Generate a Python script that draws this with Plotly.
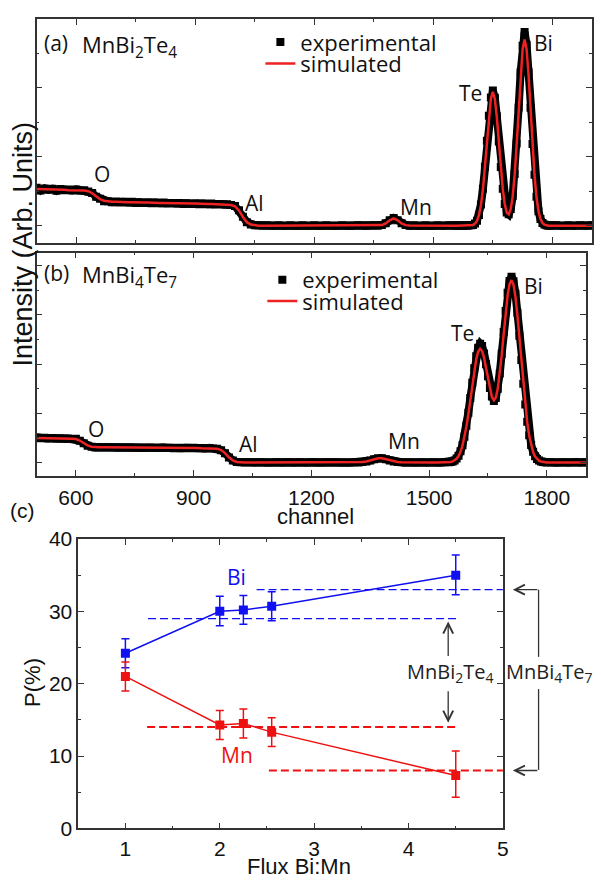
import plotly.graph_objects as go

W, H = 601, 890

# ---------------- data ----------------
# channel grid: every 10 ch, every 5 ch across the Te/Bi peaks, every 10 ch after
channel = list(range(500, 1550, 10)) + list(range(1550, 1800, 5)) + list(range(1800, 1910, 10))

# (a) MnBi2Te4 spectrum (arb. units)
exp_a = [
    1.10, 1.02, 1.08, 1.04, 1.07, 1.01, 1.06, 1.03, 1.05, 1.02,
    1.05, 1.01, 1.03, 0.99, 0.95, 0.84, 0.78, 0.71, 0.71, 0.68,
    0.70, 0.67, 0.69, 0.67, 0.69, 0.66, 0.68, 0.66, 0.68, 0.65,
    0.67, 0.65, 0.67, 0.64, 0.66, 0.64, 0.66, 0.63, 0.65, 0.63,
    0.65, 0.62, 0.64, 0.62, 0.64, 0.61, 0.63, 0.61, 0.62, 0.60,
    0.57, 0.45, 0.26, 0.10, 0.03, 0.01, 0.01, 0.00, 0.01, 0.00,
    0.00, 0.01, 0.00, 0.00, 0.01, 0.00, 0.00, 0.01, 0.00, 0.00,
    0.01, 0.00, 0.00, 0.01, 0.00, 0.00, 0.00, 0.01, 0.00, 0.00,
    0.00, 0.01, 0.00, 0.00, 0.00, 0.01, 0.00, 0.02, 0.07, 0.16,
    0.22, 0.16, 0.07, 0.02, 0.00, 0.01, 0.00, 0.00, 0.01, 0.00,
    0.00, 0.01, 0.00, 0.00, 0.01,
    0.00, 0.01, 0.00, 0.01, 0.00, 0.00, 0.01, 0.00, 0.01, 0.01,
    0.02, 0.06, 0.14, 0.31, 0.61, 1.07, 1.71, 2.46, 3.19, 3.72,
    3.92, 3.71, 3.17, 2.44, 1.70, 1.07, 0.63, 0.38, 0.33, 0.48,
    0.86, 1.50, 2.38, 3.43, 4.45, 5.22, 5.62, 5.25, 4.45, 3.42,
    2.37, 1.48, 0.84, 0.42, 0.19, 0.08, 0.03, 0.01, 0.00, 0.01,
    0.00, 0.01, 0.00, 0.00, 0.01, 0.00, 0.00, 0.01, 0.00, 0.00, 0.01,
]
sim_a = [
    1.06, 1.06, 1.05, 1.05, 1.05, 1.04, 1.04, 1.04, 1.03, 1.03,
    1.03, 1.02, 1.02, 1.00, 0.94, 0.85, 0.77, 0.72, 0.70, 0.69,
    0.69, 0.68, 0.68, 0.68, 0.68, 0.67, 0.67, 0.67, 0.67, 0.66,
    0.66, 0.66, 0.66, 0.65, 0.65, 0.65, 0.65, 0.64, 0.64, 0.64,
    0.64, 0.63, 0.63, 0.63, 0.63, 0.62, 0.62, 0.62, 0.61, 0.60,
    0.56, 0.44, 0.25, 0.10, 0.03, 0.01, 0.00, 0.00, 0.00, 0.00,
    0.00, 0.00, 0.00, 0.00, 0.00, 0.00, 0.00, 0.00, 0.00, 0.00,
    0.00, 0.00, 0.00, 0.00, 0.00, 0.00, 0.00, 0.00, 0.00, 0.00,
    0.00, 0.00, 0.00, 0.00, 0.00, 0.00, 0.00, 0.015, 0.065, 0.156,
    0.21, 0.156, 0.065, 0.015, 0.002, 0.00, 0.00, 0.00, 0.00, 0.00,
    0.00, 0.00, 0.00, 0.00, 0.00,
    0.00, 0.00, 0.00, 0.00, 0.00, 0.00, 0.00, 0.00, 0.002, 0.007,
    0.021, 0.057, 0.139, 0.303, 0.598, 1.055, 1.688, 2.429, 3.151, 3.682,
    3.88, 3.68, 3.15, 2.43, 1.69, 1.065, 0.63, 0.38, 0.33, 0.48,
    0.85, 1.48, 2.35, 3.38, 4.38, 5.12, 5.40, 5.12, 4.38, 3.38,
    2.35, 1.47, 0.83, 0.42, 0.19, 0.08, 0.03, 0.01, 0.00, 0.00,
    0.00, 0.00, 0.00, 0.00, 0.00, 0.00, 0.00, 0.00, 0.00, 0.00, 0.00,
]

# (b) MnBi4Te7 spectrum (arb. units)
exp_b = [
    1.01, 0.98, 1.00, 0.97, 0.99, 0.96, 0.98, 0.96, 0.97, 0.95,
    0.96, 0.88, 0.78, 0.68, 0.64, 0.61, 0.63, 0.61, 0.63, 0.61,
    0.62, 0.60, 0.62, 0.60, 0.62, 0.60, 0.61, 0.59, 0.61, 0.60,
    0.61, 0.59, 0.61, 0.59, 0.60, 0.58, 0.60, 0.58, 0.60, 0.58,
    0.60, 0.58, 0.59, 0.57, 0.59, 0.57, 0.56, 0.49, 0.37, 0.20,
    0.08, 0.02, 0.01, 0.00, 0.01, 0.00, 0.00, 0.01, 0.00, 0.00,
    0.00, 0.01, 0.00, 0.00, 0.01, 0.00, 0.00, 0.01, 0.00, 0.00,
    0.01, 0.00, 0.00, 0.00, 0.01, 0.00, 0.01, 0.00, 0.00, 0.00,
    0.00, 0.01, 0.00, 0.02, 0.04, 0.08, 0.13, 0.17, 0.17, 0.13,
    0.08, 0.04, 0.02, 0.01, 0.00, 0.01, 0.00, 0.00, 0.01, 0.00,
    0.00, 0.01, 0.00, 0.00, 0.01,
    0.01, 0.02, 0.04, 0.08, 0.16, 0.27, 0.45, 0.70, 1.04, 1.49,
    2.02, 2.62, 3.24, 3.83, 4.32, 4.66, 4.82, 4.73, 4.43, 3.99,
    3.50, 3.03, 2.68, 2.50, 2.62, 3.00, 3.62, 4.42, 5.30, 6.16,
    6.90, 7.38, 7.55, 7.37, 6.86, 6.09, 5.15, 4.16, 3.20, 2.35,
    1.65, 1.10, 0.71, 0.43, 0.25, 0.14, 0.08, 0.04, 0.02, 0.01,
    0.00, 0.01, 0.00, 0.00, 0.01, 0.00, 0.00, 0.01, 0.00, 0.00, 0.01,
]
sim_b = [
    0.99, 0.99, 0.98, 0.98, 0.98, 0.97, 0.97, 0.97, 0.96, 0.96,
    0.95, 0.89, 0.79, 0.69, 0.64, 0.62, 0.62, 0.62, 0.62, 0.62,
    0.61, 0.61, 0.61, 0.61, 0.61, 0.61, 0.60, 0.60, 0.60, 0.60,
    0.60, 0.60, 0.60, 0.60, 0.59, 0.59, 0.59, 0.59, 0.59, 0.59,
    0.59, 0.59, 0.58, 0.58, 0.58, 0.58, 0.56, 0.50, 0.38, 0.21,
    0.08, 0.02, 0.00, 0.00, 0.00, 0.00, 0.00, 0.00, 0.00, 0.00,
    0.00, 0.00, 0.00, 0.00, 0.00, 0.00, 0.00, 0.00, 0.00, 0.00,
    0.00, 0.00, 0.00, 0.00, 0.00, 0.00, 0.00, 0.00, 0.00, 0.00,
    0.00, 0.00, 0.00, 0.014, 0.037, 0.078, 0.128, 0.165, 0.165, 0.128,
    0.078, 0.037, 0.014, 0.004, 0.00, 0.00, 0.00, 0.00, 0.00, 0.00,
    0.00, 0.00, 0.00, 0.00, 0.00,
    0.01, 0.02, 0.04, 0.08, 0.15, 0.26, 0.43, 0.68, 1.01, 1.45,
    1.96, 2.55, 3.15, 3.72, 4.19, 4.50, 4.62, 4.53, 4.26, 3.85,
    3.40, 2.97, 2.66, 2.53, 2.64, 3.00, 3.59, 4.36, 5.22, 6.06,
    6.78, 7.25, 7.41, 7.23, 6.73, 5.98, 5.07, 4.10, 3.16, 2.32,
    1.63, 1.09, 0.70, 0.42, 0.24, 0.13, 0.07, 0.04, 0.02, 0.01,
    0.00, 0.00, 0.00, 0.00, 0.00, 0.00, 0.00, 0.00, 0.00, 0.00, 0.00,
]
for arr in (exp_a, sim_a, exp_b, sim_b):
    assert len(arr) == len(channel), (len(arr), len(channel))

# (c) composition vs flux ratio
flux = [1.0, 2.0, 2.25, 2.55, 4.5]
p_bi = [24.2, 30.0, 30.2, 30.7, 35.0]
p_bi_err_up = [2.0, 2.1, 2.0, 2.0, 2.8]
p_bi_err_dn = [2.0, 2.0, 2.0, 2.0, 2.7]
p_mn = [21.0, 14.3, 14.5, 13.3, 7.3]
p_mn_err_up = [2.0, 2.0, 2.0, 2.0, 3.4]
p_mn_err_dn = [2.0, 2.0, 2.0, 2.0, 3.0]
# reference compositions (dashed): level, x-extent
bi_ref_levels = [29.0, 33.0]
bi_ref_x = [[1.24, 4.52], [2.39, 5.0]]
mn_ref_levels = [14.0, 8.0]
mn_ref_x = [[1.23, 4.52], [2.52, 5.0]]

# ---------------- styling helpers ----------------
def px(x):
    return x / W

def py(y):
    return 1 - y / H

BLACK = "#111111"
AX = "#333333"
RED_SIM = "#ee2222"
BLUE = "#1010f0"
RED = "#ee1111"
TICKFONT = dict(family="Liberation Sans, Arial", size=21, color=BLACK)

fig = go.Figure()

# spectra
for (ex, sm, xa, ya, lg_e, lg_s) in [
    (exp_a, sim_a, "x", "y", "legend", "legend2"),
    (exp_b, sim_b, "x2", "y2", "legend3", "legend4"),
]:
    fig.add_trace(go.Scatter(x=channel, y=ex, mode="lines", xaxis=xa, yaxis=ya,
                             line=dict(color="black", width=8), showlegend=False,
                             hoverinfo="skip"))
    fig.add_trace(go.Scatter(x=channel, y=ex, mode="markers", xaxis=xa, yaxis=ya,
                             marker=dict(symbol="square", size=8, color="black",
                                         line=dict(width=0)),
                             name="experimental", legend=lg_e, showlegend=True))
    fig.add_trace(go.Scatter(x=channel, y=sm, mode="lines", xaxis=xa, yaxis=ya,
                             line=dict(color=RED_SIM, width=2.5),
                             name="simulated", legend=lg_s, showlegend=True))

# panel (c): reference dashed lines
for lvl, xr in zip(bi_ref_levels, bi_ref_x):
    fig.add_trace(go.Scatter(x=xr, y=[lvl, lvl], mode="lines", xaxis="x3", yaxis="y3",
                             line=dict(color=BLUE, width=1.2, dash="8px,4px"),
                             showlegend=False, hoverinfo="skip"))
for lvl, xr in zip(mn_ref_levels, mn_ref_x):
    fig.add_trace(go.Scatter(x=xr, y=[lvl, lvl], mode="lines", xaxis="x3", yaxis="y3",
                             line=dict(color=RED, width=2, dash="8px,4px"),
                             showlegend=False, hoverinfo="skip"))

# panel (c): data
for yv, up, dn, col in [(p_bi, p_bi_err_up, p_bi_err_dn, BLUE),
                        (p_mn, p_mn_err_up, p_mn_err_dn, RED)]:
    fig.add_trace(go.Scatter(
        x=flux, y=yv, mode="lines+markers", xaxis="x3", yaxis="y3",
        line=dict(color=col, width=1.5),
        marker=dict(symbol="square", size=9, color=col),
        error_y=dict(type="data", array=up, arrayminus=dn, color=col,
                     thickness=1.5, width=4),
        showlegend=False))

axis_common = dict(showline=True, linecolor=AX, linewidth=1.5, mirror="ticks",
                   ticks="inside", tickcolor=AX, tickwidth=1.2, ticklen=6,
                   showgrid=False, zeroline=False, tickfont=TICKFONT)

fig.update_layout(
    width=W, height=H, autosize=False,
    margin=dict(l=0, r=0, t=0, b=0),
    paper_bgcolor="white", plot_bgcolor="white",
    xaxis=dict(domain=[px(37), px(598)], anchor="y", range=[500, 1900],
               tick0=0, dtick=300, showticklabels=False,
               minor=dict(dtick=150, ticks="inside", ticklen=3, tickcolor=AX),
               **axis_common),
    yaxis=dict(domain=[py(237), py(7)], anchor="x", range=[-0.5, 6.0],
               tick0=0, dtick=2, showticklabels=False,
               minor=dict(dtick=1, ticks="inside", ticklen=3, tickcolor=AX),
               **axis_common),
    xaxis2=dict(domain=[px(37), px(592)], anchor="y2", range=[500, 1900],
                tick0=0, dtick=300, ticklabelstandoff=2,
                minor=dict(dtick=150, ticks="inside", ticklen=3, tickcolor=AX),
                **axis_common),
    yaxis2=dict(domain=[py(476), py(247)], anchor="x2", range=[-0.54, 8.53],
                tick0=0, dtick=2, showticklabels=False,
                minor=dict(dtick=1, ticks="inside", ticklen=3, tickcolor=AX),
                **axis_common),
    xaxis3=dict(domain=[px(79), px(508)], anchor="y3", range=[0.5, 5],
                tick0=0, dtick=1, ticklabelstandoff=1,
                minor=dict(dtick=0.5, ticks="inside", ticklen=3, tickcolor=AX),
                **axis_common),
    yaxis3=dict(domain=[py(838), py(541)], anchor="x3", range=[0, 40],
                tick0=0, dtick=10, ticklabelstandoff=0,
                minor=dict(dtick=5, ticks="inside", ticklen=3, tickcolor=AX),
                **axis_common),
)

LEGFONT = dict(family="Open Sans", size=22, color=BLACK)
def leg(xpix, ypix):
    return dict(x=px(xpix), y=py(ypix), xanchor="left", yanchor="middle",
                bgcolor="rgba(0,0,0,0)", borderwidth=0, font=LEGFONT,
                itemwidth=30)

fig.update_layout(legend=leg(263, 31), legend2=leg(263, 53),
                  legend3=leg(265, 275), legend4=leg(265, 297))

ann = []
def lab(text, x, y, size=21, color=BLACK, family="Open Sans", xanchor="center", angle=0):
    ann.append(dict(text=text, x=px(x), y=py(y), xref="paper", yref="paper",
                    showarrow=False, xanchor=xanchor, yanchor="middle", textangle=angle,
                    font=dict(family=family, size=size, color=color)))

# panel (a) labels
lab("(a)", 57, 32)
lab("MnBi<sub>2</sub>Te<sub>4</sub>", 81, 35, size=22, xanchor="left")
lab("O", 103, 166)
lab("Al", 257, 196)
lab("Mn", 420, 200)
lab("Te", 475, 83)
lab("Bi", 549, 32)
# panel (b) labels
lab("(b)", 57, 268)
lab("MnBi<sub>4</sub>Te<sub>7</sub>", 81, 271, size=22, xanchor="left")
lab("O", 97, 428)
lab("Al", 251, 443)
lab("Mn", 408, 440)
lab("Te", 467, 330)
lab("Bi", 539, 281)
# axis titles
lab("Intensity (Arb. Units)", 23, 238, size=27, family="Liberation Sans, Arial", angle=-90)
lab("channel", 319, 518, size=22, family="Liberation Sans, Arial")
lab("(c)", 23, 512, size=21, family="Liberation Sans, Arial")
lab("P(%)", 33, 688, size=22, family="Liberation Sans, Arial", angle=-90)
lab("Flux Bi:Mn", 302, 877, size=22, family="Liberation Sans, Arial")
# panel (c) labels
lab("Bi", 239, 580, color=BLUE)
lab("Mn", 239, 763, color=RED)
lab("MnBi<sub>2</sub>Te<sub>4</sub>", 455, 678, size=20, color="#222222")
lab("MnBi<sub>4</sub>Te<sub>7</sub>", 555, 678, size=20, color="#222222")

# arrows in panel (c)
arrow_style = dict(showarrow=True, arrowhead=5, arrowsize=1.5, arrowwidth=1.3,
                   arrowcolor="#333333", text="", standoff=0, startstandoff=0)
ann.append(dict(x=4.42, y=28.6, xref="x3", yref="y3", ax=0, ay=36, **arrow_style))
ann.append(dict(x=4.42, y=14.6, xref="x3", yref="y3", ax=0, ay=-33, **arrow_style))
ann.append(dict(x=px(518), y=33.0, xref="paper", yref="y3", ax=26, ay=0, **arrow_style))
ann.append(dict(x=px(518), y=8.0, xref="paper", yref="y3", ax=26, ay=0, **arrow_style))
fig.update_layout(annotations=ann)

# bracket vertical segments
for y0, y1 in [(593, 662), (695, 778)]:
    fig.add_shape(type="line", xref="paper", yref="paper",
                  x0=px(544), x1=px(544), y0=py(y0), y1=py(y1),
                  line=dict(color="#333333", width=1.3))

fig.write_html("out.html",
               config={"displayModeBar": False},
               post_script="document.body.style.margin='0px';"
                           "document.body.style.overflow='hidden';")
